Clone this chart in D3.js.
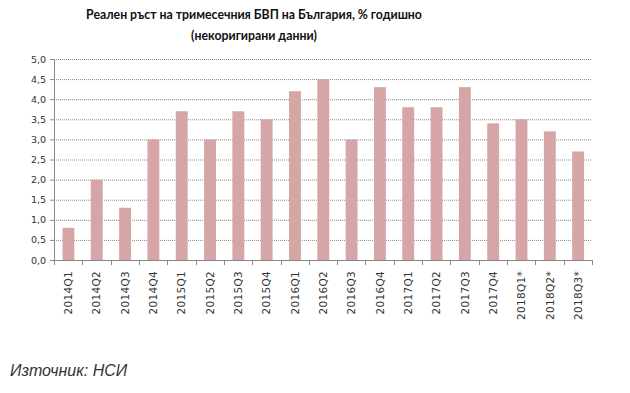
<!DOCTYPE html>
<html>
<head>
<meta charset="utf-8">
<script src="https://cdn.jsdelivr.net/npm/d3@7"></script>
<style>
  body { margin: 0; background: white; }
  .tick text { font-family: "DejaVu Sans", Verdana, sans-serif; font-size: 9.5px; fill: #333; }
</style>
</head>
<body>
<svg width="630" height="393"></svg>
<script>
var quarters = ["2014Q1", "2014Q2", "2014Q3", "2014Q4", "2015Q1", "2015Q2", "2015Q3", "2015Q4",
  "2016Q1", "2016Q2", "2016Q3", "2016Q4", "2017Q1", "2017Q2", "2017Q3", "2017Q4",
  "2018Q1*", "2018Q2*", "2018Q3*"]
var growth = [0.8, 2.0, 1.3, 3.0, 3.7, 3.0, 3.7, 3.5, 4.2, 4.5, 3.0, 4.3, 3.8, 3.8, 4.3, 3.4, 3.5, 3.2, 2.7]
var yTicks = [0, 0.5, 1, 1.5, 2, 2.5, 3, 3.5, 4, 4.5, 5]

var
  svg = d3.select("svg"),
  margin = { top: 59, right: 38, bottom: 133, left: 54 },
  width = svg.attr("width") - margin.left - margin.right,
  height = svg.attr("height") - margin.top - margin.bottom,
  group = svg.append("g").attr("transform", `translate(${margin.left},${margin.top})`)

var
  x = d3.scaleBand().domain(quarters).range([0, width]),
  y = d3.scaleLinear().domain([0, 5]).range([height, 0])

var fmt = d => d3.format(".1f")(d).replace(".", ",")

// dotted gridlines
group.append("g")
  .selectAll("line")
  .data(yTicks.slice(1))
  .join("line")
  .attr("x1", 0).attr("x2", width)
  .attr("y1", d => y(d) + 0.5).attr("y2", d => y(d) + 0.5)
  .attr("stroke", "#8a8a8a")
  .attr("stroke-dasharray", "1,1")

group.append("g")
  .selectAll("rect")
  .data(growth)
  .join("rect")
  .attr("x", (d, i) => x(quarters[i]) + x.bandwidth() * 0.3)
  .attr("width", x.bandwidth() * 0.42)
  .attr("y", d => y(d))
  .attr("height", d => height - y(d))
  .attr("fill", "#d6a6a7")

// y axis
var yAxis = group.append("g")
  .call(d3.axisLeft(y).tickValues(yTicks).tickFormat(fmt).tickSize(4).tickPadding(4))
yAxis.select(".domain").attr("stroke", "#888").attr("d", `M0.5,${height}V0.5`)
yAxis.selectAll(".tick line").attr("stroke", "#888")

// x axis with ticks between categories
var xAxis = group.append("g").attr("transform", `translate(0,${height})`)
xAxis.append("line")
  .attr("x1", 0).attr("x2", width)
  .attr("y1", 0.5).attr("y2", 0.5)
  .attr("stroke", "#888")
xAxis.selectAll(".sep")
  .data(d3.range(quarters.length + 1))
  .join("line")
  .attr("class", "sep")
  .attr("x1", i => Math.round(i * x.step()) + 0.5)
  .attr("x2", i => Math.round(i * x.step()) + 0.5)
  .attr("y1", 0).attr("y2", 5)
  .attr("stroke", "#888")
xAxis.selectAll("text")
  .data(quarters)
  .join("text")
  .attr("transform", d => `translate(${x(d) + x.bandwidth() / 2 + 4},11) rotate(-90)`)
  .style("text-anchor", "end")
  .style("font-family", "DejaVu Sans, Verdana, sans-serif")
  .style("font-size", "10.5px")
  .style("letter-spacing", "0.3px")
  .style("fill", "#333")
  .text(d => d)

// title
var title = svg.append("text")
  .style("text-anchor", "middle")
  .style("font-family", "Lato, sans-serif")
  .style("font-weight", "bold")
  .style("font-size", "12.3px")
  .style("fill", "#111")
title.append("tspan").attr("x", 254).attr("y", 19).text("Реален ръст на тримесечния БВП на България, % годишно")
title.append("tspan").attr("x", 254).attr("y", 40).text("(некоригирани данни)")

svg.append("text")
  .attr("x", 10).attr("y", 376)
  .style("font-family", "Liberation Sans, Arial, sans-serif")
  .style("font-style", "italic")
  .style("font-size", "16px")
  .style("fill", "#333")
  .text("Източник: НСИ")
</script>
</body>
</html>
